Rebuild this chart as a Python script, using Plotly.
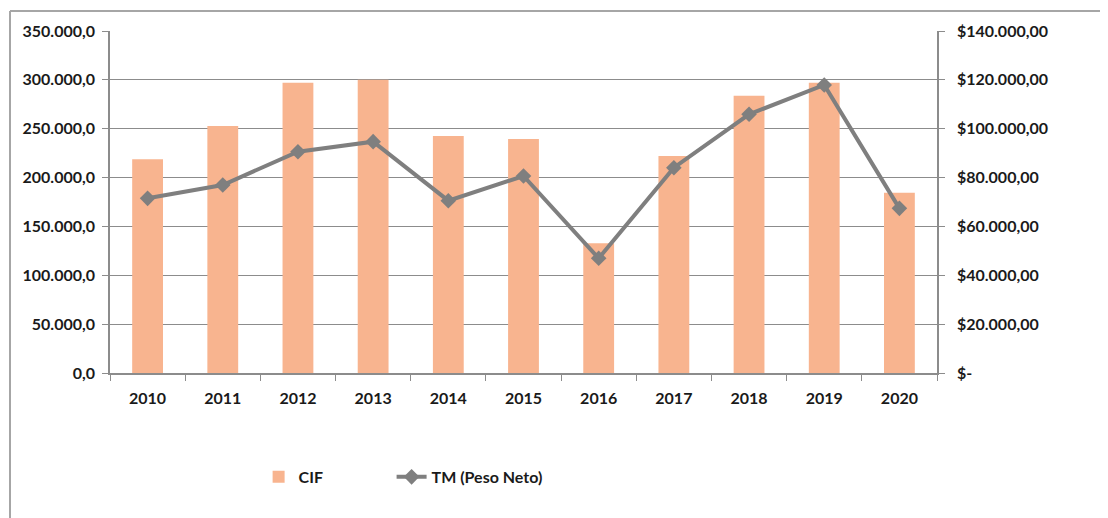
import plotly.graph_objects as go

years = ["2010", "2011", "2012", "2013", "2014", "2015", "2016", "2017", "2018", "2019", "2020"]
cif = [218700, 252800, 297100, 300200, 242500, 239500, 132700, 222100, 283800, 297100, 184500]
tm = [71500, 76960, 90600, 94700, 70540, 80640, 46950, 84050, 105900, 117900, 67400]

left_ticks = [0, 50000, 100000, 150000, 200000, 250000, 300000, 350000]
right_ticks = [0, 20000, 40000, 60000, 80000, 100000, 120000, 140000]
right_text = ["$-", "$20.000,00", "$40.000,00", "$60.000,00", "$80.000,00",
              "$100.000,00", "$120.000,00", "$140.000,00"]

FONT = dict(family="Lato", size=16, color="#1a1a1a", weight="bold")
LFONT = dict(family="Lato", size=16, color="#1a1a1a", weight="bold")
GRID = "#8c8c8c"

fig = go.Figure()
fig.add_trace(go.Bar(x=years, y=cif, name="CIF", marker=dict(color="#F8B48F", line=dict(width=0)),
                     yaxis="y", legend="legend"))
fig.add_trace(go.Scatter(x=years, y=tm, name="TM (Peso Neto)", mode="lines+markers",
                         line=dict(color="#7f7f7f", width=4),
                         marker=dict(symbol="diamond", size=12, color="#7f7f7f"),
                         yaxis="y2", legend="legend2"))

fig.update_layout(
    width=1100, height=510, autosize=False,
    margin=dict(l=102, r=171, t=23, b=145),
    paper_bgcolor="white", plot_bgcolor="white",
    separators=",.",
    bargap=0.59,
    font=FONT,
    showlegend=True,
    legend=dict(orientation="h", x=0.1797, xanchor="left", y=-0.304, yanchor="middle",
                font=LFONT, bgcolor="rgba(0,0,0,0)"),
    legend2=dict(orientation="h", x=0.3405, xanchor="left", y=-0.304, yanchor="middle",
                 font=LFONT, bgcolor="rgba(0,0,0,0)"),
    xaxis=dict(type="category", range=[-0.5, len(years) - 0.5], showline=True,
               linecolor=GRID, linewidth=1.5,
               ticks="outside", ticklen=6, tickcolor=GRID, tickson="boundaries",
               showgrid=False, tickfont=FONT, ticklabelstandoff=10),
    yaxis=dict(range=[0, 350000], tickvals=left_ticks, tickformat=",.1f",
               showline=True, linecolor=GRID, linewidth=1.5, ticks="outside", ticklen=6,
               tickcolor=GRID, showgrid=True, gridcolor=GRID, gridwidth=1.2,
               zeroline=False, tickfont=FONT, ticklabelstandoff=4),
    yaxis2=dict(range=[0, 140000], tickvals=right_ticks, ticktext=right_text,
                overlaying="y", side="right", showline=True, linecolor=GRID, linewidth=1.5,
                ticks="outside", ticklen=6, tickcolor=GRID, showgrid=False,
                zeroline=False, tickfont=FONT, ticklabelstandoff=9),
    shapes=[
        dict(type="line", xref="paper", yref="paper", x0=-100/827, x1=1.3, y0=1 + 20/342, y1=1 + 20/342,
             line=dict(color="#a6a6a6", width=2)),
        dict(type="line", xref="paper", yref="paper", x0=-100/827, x1=-100/827, y0=1 + 20/342, y1=-1.0,
             line=dict(color="#a6a6a6", width=2)),
    ],
)

fig.write_html("out.html")
